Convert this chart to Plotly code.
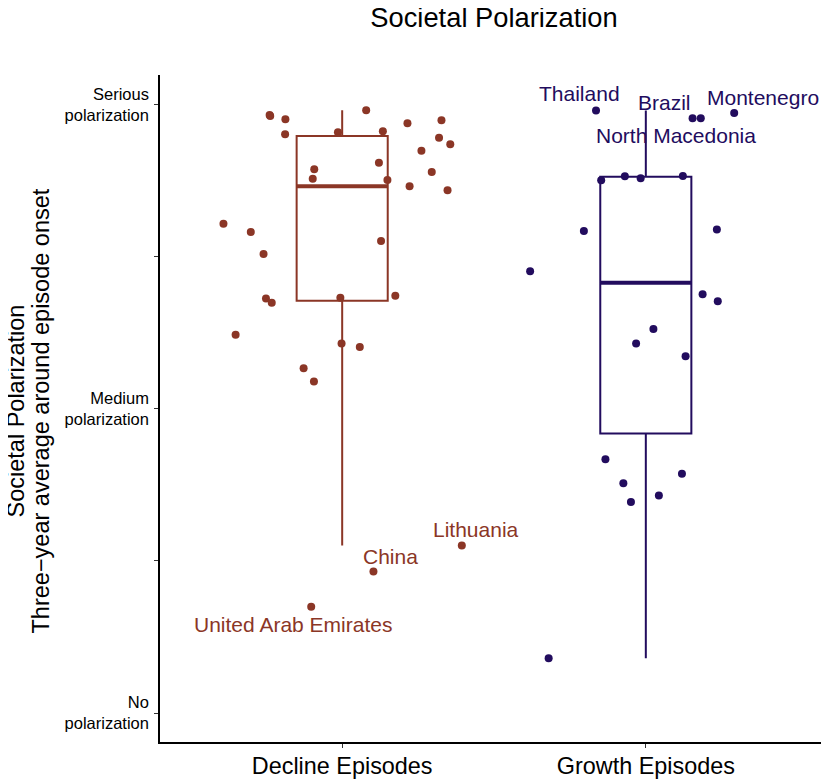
import numpy as np
import plotly.graph_objects as go

# ---------------- data ----------------
categories = ["Decline Episodes", "Growth Episodes"]
category_pos = [1, 2]

# societal polarization (0 = No, 2 = Medium, 4 = Serious)
decline_values = [3.934, 3.928, 3.906, 3.807, 3.820, 3.965, 3.827, 3.880, 3.899, 3.785,
                  3.741, 3.699, 3.620, 3.577, 3.515, 3.507, 3.559, 3.465, 3.439, 3.219,
                  3.164, 3.020, 3.105, 2.726, 2.699, 2.732, 2.745, 2.489, 2.430, 2.408,
                  2.268, 2.180, 1.102, 0.930, 0.699]
decline_jitter = [-0.239, -0.237, -0.187, -0.188, -0.014, 0.079, 0.134, 0.215, 0.327, 0.319,
                  0.356, 0.261, 0.121, -0.092, -0.097, 0.149, 0.295, 0.222, 0.347, -0.391,
                  -0.301, -0.259, 0.128, -0.251, -0.232, -0.006, 0.175, -0.351, -0.002, 0.058,
                  -0.127, -0.093, 0.394, 0.103, -0.102]
decline_names = [""] * 32 + ["Lithuania", "China", "United Arab Emirates"]

growth_values = [3.963, 3.913, 3.913, 3.947, 3.505, 3.531, 3.518, 3.533, 3.171, 3.180,
                 2.906, 2.755, 2.709, 2.526, 2.430, 2.347, 1.669, 1.511, 1.388, 1.430,
                 1.574, 0.360]
growth_jitter = [-0.164, 0.154, 0.181, 0.291, -0.147, -0.069, -0.017, 0.122, -0.204, 0.234,
                 -0.381, 0.187, 0.237, 0.025, -0.032, 0.131, -0.133, -0.074, -0.049, 0.043,
                 0.119, -0.320]
growth_names = ["Thailand", "Brazil", "North Macedonia", "Montenegro"] + [""] * 18

y_tickvals = [0, 1, 2, 3, 4]
y_ticktext = ["No<br>polarization", "", "Medium<br>polarization", "", "Serious<br>polarization"]

# ---------------- style ----------------
DECLINE_COL = "#8B3626"
GROWTH_COL = "#220C5E"
FONT = "Liberation Sans, Arial, sans-serif"
BOX_W = 0.3

label_shift = {  # pixel offsets of country labels from their points
    "Lithuania": (14, 16),
    "China": (17, 15),
    "United Arab Emirates": (-18, -18),
    "Thailand": (-17, 17),
    "Brazil": (-28, 16),
    "Montenegro": (29, 16),
    "North Macedonia": (-25, -17),
}

fig = go.Figure()


def add_group(pos, values, jitter, names, color):
    v = np.array(values)
    q1, med, q3 = np.percentile(v, [25, 50, 75])
    iqr = q3 - q1
    lf = v[v >= q1 - 1.5 * iqr].min()
    uf = v[v <= q3 + 1.5 * iqr].max()
    fig.add_trace(go.Box(
        x=[pos], q1=[q1], median=[med], q3=[q3], lowerfence=[lf], upperfence=[uf],
        width=BOX_W, whiskerwidth=0, boxpoints=False,
        line=dict(color=color, width=2), fillcolor="rgba(0,0,0,0)",
        showlegend=False, hoverinfo="skip"))
    fig.add_trace(go.Scatter(
        x=[pos - BOX_W / 2, pos + BOX_W / 2], y=[med, med], mode="lines",
        line=dict(color=color, width=4), showlegend=False, hoverinfo="skip"))
    xs = pos + np.array(jitter)
    fig.add_trace(go.Scatter(
        x=xs, y=v, mode="markers", marker=dict(color=color, size=8),
        showlegend=False))
    for xi, yi, nm in zip(xs, v, names):
        if nm:
            dx, dy = label_shift[nm]
            fig.add_annotation(x=xi, y=yi, text=nm, showarrow=False,
                               xshift=dx, yshift=dy,
                               font=dict(family=FONT, size=21, color=color))


add_group(category_pos[0], decline_values, decline_jitter, decline_names, DECLINE_COL)
add_group(category_pos[1], growth_values, growth_jitter, growth_names, GROWTH_COL)

# y axis title (two lines)
fig.add_annotation(xref="paper", yref="paper", x=0, y=0.5, xshift=-145, yshift=-3,
                   text="Societal Polarization", textangle=-90, showarrow=False,
                   xanchor="center", yanchor="middle",
                   font=dict(family=FONT, size=23.5, color="black"))
fig.add_annotation(xref="paper", yref="paper", x=0, y=0.5, xshift=-120, yshift=-3,
                   text="Three\u2212year average around episode onset", textangle=-90,
                   showarrow=False, xanchor="center", yanchor="middle",
                   font=dict(family=FONT, size=23.5, color="black"))

fig.update_layout(
    width=821, height=772,
    margin=dict(l=152, r=1, t=67, b=38),
    paper_bgcolor="white", plot_bgcolor="white",
    font=dict(family=FONT, color="black"),
    title=dict(text="Societal Polarization", x=0.5, xref="paper", xanchor="center",
               y=1.0, yref="container", yanchor="top",
               font=dict(family=FONT, size=27.3, color="black")),
    xaxis=dict(range=[0.4, 2.6], tickvals=category_pos, ticktext=categories,
               showgrid=False, zeroline=False, showline=True, linecolor="black",
               linewidth=1.5, ticks="outside", ticklen=4, tickcolor="#333333",
               ticklabelstandoff=-2,
               tickfont=dict(family=FONT, size=23.4, color="black")),
    yaxis=dict(range=[-0.1908, 4.197], tickvals=y_tickvals, ticktext=y_ticktext,
               showgrid=False, zeroline=False, showline=True, linecolor="black",
               linewidth=1.5, ticks="outside", ticklen=4, tickcolor="#333333",
               ticklabelstandoff=2,
               tickfont=dict(family=FONT, size=16.5, color="black")),
)

fig.write_html("out.html")
